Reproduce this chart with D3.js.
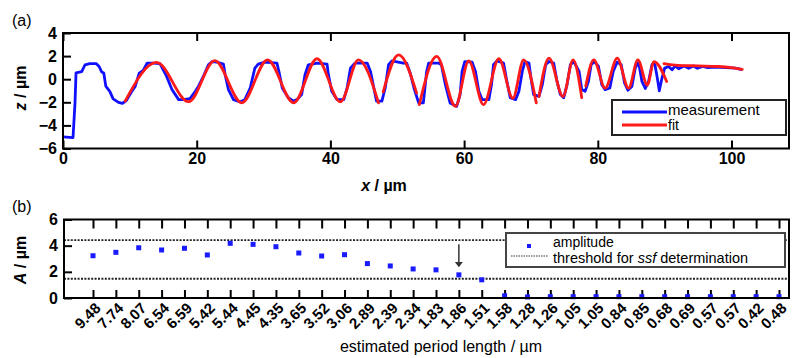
<script src="https://d3js.org/d3.v7.min.js"></script>
<body style="margin:0;background:#fff"></body>
<script>
var width = 793, height = 358;
var font = "'Liberation Sans', Arial, Helvetica, sans-serif";

// panel (a): measured profile [x, z] in µm
var measurement = [
  [0.0,-5.0],[1.5,-5.05],[1.8,-2.0],[1.95,0.55],[2.8,0.65],[3.3,1.25],[4.0,1.34],[5.0,1.34],[5.4,1.1],[5.8,0.62],
  [6.1,0.53],[6.4,-0.6],[7.0,-1.05],[7.5,-1.7],[8.3,-2.0],[8.9,-2.1],[9.5,-1.83],[10.3,-1.05],[10.8,-0.62],[11.4,0.53],
  [12.0,0.76],[12.6,1.4],[13.5,1.4],[14.5,1.34],[15.5,0.24],[16.3,-0.9],[17.3,-1.77],[18.0,-1.77],[19.0,-1.68],[19.8,-1.05],
  [20.25,-0.62],[21.0,0.24],[21.75,1.25],[22.3,1.53],[23.0,1.48],[24.0,1.31],[24.25,0.39],[24.75,-0.9],[25.5,-1.77],[26.5,-1.97],
  [27.2,-1.77],[28.0,-0.76],[28.7,0.96],[29.2,1.31],[30.2,1.48],[32.0,1.4],[32.3,0.67],[32.8,-0.76],[33.7,-1.6],[34.5,-1.9],
  [35.0,-1.77],[35.7,-1.33],[36.2,0.39],[36.7,1.25],[38.0,1.4],[39.5,1.31],[39.7,0.4],[40.2,-1.05],[41.0,-1.77],[42.0,-1.77],
  [42.5,-0.76],[43.0,0.96],[43.7,1.4],[45.5,1.4],[46.0,0.67],[46.5,-0.76],[46.9,-1.9],[47.7,-1.9],[48.2,-0.76],[48.7,1.25],
  [49.2,1.59],[50.9,1.4],[51.4,1.4],[52.0,0.4],[52.5,-0.76],[53.2,-2.05],[53.9,-2.05],[54.4,0.67],[54.7,1.4],[56.2,1.4],
  [56.6,1.25],[57.2,-0.47],[57.9,-2.05],[58.9,-2.34],[59.4,-1.33],[59.7,0.67],[60.1,1.53],[61.2,1.48],[61.7,0.67],[62.2,-1.05],
  [62.7,-1.77],[63.7,-1.77],[64.1,-0.47],[64.4,1.25],[64.9,1.59],[65.9,1.4],[66.4,-0.19],[66.9,-1.6],[67.7,-1.77],[68.2,-1.05],
  [68.7,0.67],[69.1,1.53],[69.7,1.4],[70.0,0.1],[70.4,-1.33],[71.2,-1.48],[71.7,-0.47],[72.2,1.25],[72.7,1.53],[73.4,1.4],
  [73.9,-0.19],[74.4,-1.33],[74.9,-1.6],[75.4,-0.47],[75.9,1.25],[76.4,1.53],[77.2,0.67],[77.6,-0.9],[78.1,-1.05],[78.6,-0.19],
  [79.0,1.25],[79.5,1.53],[80.1,1.1],[80.6,-0.47],[81.1,-0.9],[81.8,-0.76],[82.3,0.67],[82.9,1.48],[83.5,1.25],[84.0,-0.33],
  [84.5,-0.95],[85.1,-0.62],[85.6,0.96],[86.1,1.48],[86.6,-0.19],[87.1,-0.8],[87.6,-0.19],[88.1,1.25],[88.5,1.4],[88.9,0.1],
  [89.2,-1.0],[89.6,0.1],[90.0,0.96],[90.6,1.1],[91.1,0.82],[91.6,1.15],[92.1,0.9],[92.9,1.15],[93.6,0.95],[94.3,1.15],
  [94.9,0.95],[95.7,1.1],[96.4,1.0],[97.6,1.05],[99.1,1.0],[100.6,0.95],[101.6,0.82]
];

// panel (a): fitted sections (extrema of each piece)
var fitSegments = [
  [[9.3,-1.9],[14.0,1.45],[18.8,-1.95],[22.7,1.6],[26.75,-2.05],[30.6,1.68],[34.5,-2.05],[38.0,1.77],[41.5,-1.97],[44.2,1.68],[47.2,-2.05]],
  [[47.9,-1.1],[50.2,2.1],[52.9,-1.2]],
  [[53.3,-2.2],[55.9,1.97],[58.7,-2.34],[60.7,1.59],[62.9,-2.2],[65.2,1.77],[67.3,-1.65],[68.9,1.68],[70.8,-2.05]],
  [[71.2,-1.5],[72.7,1.82],[74.8,-1.5],[76.3,1.68],[77.6,-1.6]],
  [[78.2,-0.6],[79.4,1.68],[81.1,-0.78],[82.9,1.82],[84.6,-0.78],[86.0,1.68],[87.4,-0.5],[88.4,1.53],[90.3,-0.2]],
  [[89.9,1.35],[92.0,1.2],[95.0,1.15],[98.0,1.1],[100.0,1.0],[101.6,0.85]]
];

// panel (b)
var periodLabels = ["9.48","7.74","8.07","6.54","6.59","5.42","5.44","4.45","4.35","3.65","3.52","3.06","2.89","2.39","2.34",
  "1.83","1.86","1.51","1.58","1.28","1.26","1.05","1.05","0.84","0.85","0.68","0.69","0.57","0.57","0.42","0.48"];
var amplitudes = [3.23,3.49,3.84,3.67,3.80,3.29,4.18,4.10,3.92,3.44,3.21,3.31,2.63,2.45,2.22,
  2.15,1.77,1.39,0.17,0.08,0.1,0.1,0.1,0.1,0.1,0.1,0.1,0.1,0.1,0.1,0.1];
var thresholds = [4.43, 1.47];
var ssfIndex = 16;

var svg = d3.select("body").append("svg")
  .attr("width", width).attr("height", height)
  .style("font-family", font);

// ---------- panel (a)
var xA = d3.scaleLinear().domain([0, 108.6]).range([63, 789]);
var yA = d3.scaleLinear().domain([-6, 4]).range([148.5, 33]);

var line = d3.line().x(function(d){return xA(d[0]);}).y(function(d){return yA(d[1]);});

svg.append("path").datum(measurement)
  .attr("d", line)
  .attr("fill", "none").attr("stroke", "#1010ff").attr("stroke-width", 2.8)
  .attr("stroke-linejoin", "round");

var fitLine = d3.line().curve(d3.curveMonotoneX)
  .x(function(d){return xA(d[0]);}).y(function(d){return yA(d[1]);});

svg.append("g").selectAll("path").data(fitSegments).enter().append("path")
  .attr("d", fitLine)
  .attr("fill", "none").attr("stroke", "#ff1a1a").attr("stroke-width", 2.8)
  .attr("stroke-linecap", "round");

function styleAxis(g) {
  g.select(".domain").remove();
  g.selectAll("line").attr("stroke", "#000").attr("stroke-width", 2);
  g.selectAll("text").attr("fill", "#000").style("font-family", font)
    .style("font-size", "16px").style("font-weight", "bold");
}

svg.append("g").attr("transform", "translate(63,0)")
  .call(d3.axisLeft(yA).tickValues([-6,-4,-2,0,2,4]).tickSize(-8).tickPadding(6))
  .call(styleAxis);
svg.append("g").attr("transform", "translate(0,148.5)")
  .call(d3.axisBottom(xA).tickValues([0,20,40,60,80,100]).tickSize(-8).tickPadding(4))
  .call(styleAxis);
svg.append("g").attr("transform", "translate(0,33)")
  .call(d3.axisTop(xA).tickValues([0,20,40,60,80,100]).tickSize(-8).tickFormat(""))
  .call(styleAxis);

svg.append("rect").attr("x", 63).attr("y", 33).attr("width", 726).attr("height", 115.5)
  .attr("fill", "none").attr("stroke", "#000").attr("stroke-width", 2);

// legend (a)
var legA = svg.append("g");
legA.append("rect").attr("x", 612).attr("y", 100).attr("width", 174).attr("height", 35)
  .attr("fill", "#fff").attr("stroke", "#222").attr("stroke-width", 2);
legA.append("line").attr("x1", 622).attr("x2", 667).attr("y1", 112).attr("y2", 112)
  .attr("stroke", "#1010ff").attr("stroke-width", 3);
legA.append("line").attr("x1", 622).attr("x2", 667).attr("y1", 125).attr("y2", 125)
  .attr("stroke", "#ff1a1a").attr("stroke-width", 3);
legA.append("text").attr("x", 668).attr("y", 115).text("measurement").style("font-size", "15px");
legA.append("text").attr("x", 668).attr("y", 130).text("fit").style("font-size", "14px");

svg.append("text").attr("x", 12).attr("y", 26).text("(a)").style("font-size", "16px");

var zl = svg.append("text").attr("transform", "translate(26,88) rotate(-90)")
  .attr("text-anchor", "middle").style("font-size", "16px").style("font-weight", "bold");
zl.append("tspan").text("z").style("font-style", "italic");
zl.append("tspan").text(" / µm");

var xl = svg.append("text").attr("x", 384).attr("y", 191)
  .attr("text-anchor", "middle").style("font-size", "16px").style("font-weight", "bold");
xl.append("tspan").text("x").style("font-style", "italic");
xl.append("tspan").text(" / µm");

// ---------- panel (b)
var xB = d3.scaleLinear().domain([0, periodLabels.length - 1]).range([93, 779]);
var yB = d3.scaleLinear().domain([0, 6]).range([298, 219.5]);

svg.append("g").selectAll("line").data(thresholds).enter().append("line")
  .attr("x1", 64).attr("x2", 789)
  .attr("y1", function(d){return yB(d);}).attr("y2", function(d){return yB(d);})
  .attr("stroke", "#222").attr("stroke-width", 1.8).attr("stroke-dasharray", "2,1.4");

svg.append("g").attr("transform", "translate(64,0)")
  .call(d3.axisLeft(yB).tickValues([0,2,4,6]).tickSize(-8).tickPadding(6).tickFormat(d3.format("d")))
  .call(styleAxis);
svg.append("g").attr("transform", "translate(0,298)")
  .call(d3.axisBottom(xB).tickValues(d3.range(periodLabels.length)).tickSize(-8)
    .tickFormat(function(i){return periodLabels[i];}))
  .call(styleAxis)
  .selectAll("text")
  .attr("text-anchor", "end").attr("dy", null)
  .attr("transform", "translate(6,9) rotate(-45)")
  .style("font-size", "15px");
svg.append("g").attr("transform", "translate(0,219.5)")
  .call(d3.axisTop(xB).tickValues(d3.range(periodLabels.length)).tickSize(-9).tickFormat(""))
  .call(styleAxis);

svg.append("g").selectAll("rect").data(amplitudes).enter().append("rect")
  .attr("x", function(d, i){return xB(i) - 2.5;})
  .attr("y", function(d){return yB(d) - 2.5;})
  .attr("width", 5).attr("height", 5).attr("fill", "#1a1aff");

svg.append("rect").attr("x", 64).attr("y", 219.5).attr("width", 725).attr("height", 78.5)
  .attr("fill", "none").attr("stroke", "#000").attr("stroke-width", 2);

// arrow marking ssf
var ax = xB(ssfIndex);
svg.append("line").attr("x1", ax).attr("x2", ax).attr("y1", yB(4.1)).attr("y2", yB(2.6))
  .attr("stroke", "#333").attr("stroke-width", 1.5);
svg.append("path").attr("d", "M" + (ax-4) + "," + yB(2.75) + "L" + (ax+4) + "," + yB(2.75) + "L" + ax + "," + yB(2.35) + "Z")
  .attr("fill", "#333");

// legend (b)
var legB = svg.append("g");
legB.append("rect").attr("x", 506).attr("y", 233).attr("width", 279).attr("height", 34)
  .attr("fill", "#fff").attr("stroke", "#444").attr("stroke-width", 2);
legB.append("rect").attr("x", 527).attr("y", 244).attr("width", 4).attr("height", 4).attr("fill", "#1a1aff");
legB.append("line").attr("x1", 511).attr("x2", 548).attr("y1", 256).attr("y2", 256)
  .attr("stroke", "#333").attr("stroke-width", 1.2).attr("stroke-dasharray", "1.5,1");
legB.append("text").attr("x", 553).attr("y", 246.5).text("amplitude").style("font-size", "14px");
var th = legB.append("text").attr("x", 553).attr("y", 263).style("font-size", "14.5px");
th.append("tspan").text("threshold for ");
th.append("tspan").text("ssf").style("font-style", "italic");
th.append("tspan").text(" determination");

svg.append("text").attr("x", 12).attr("y", 212).text("(b)").style("font-size", "16px");

var al = svg.append("text").attr("transform", "translate(26,260) rotate(-90)")
  .attr("text-anchor", "middle").style("font-size", "16px").style("font-weight", "bold");
al.append("tspan").text("A").style("font-style", "italic");
al.append("tspan").text(" / µm");

svg.append("text").attr("x", 441).attr("y", 352).attr("text-anchor", "middle")
  .text("estimated period length / µm").style("font-size", "16px");
</script>
